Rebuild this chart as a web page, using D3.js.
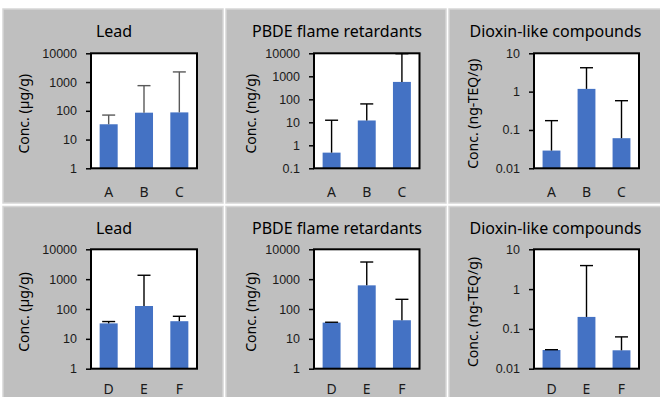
<!DOCTYPE html>
<meta charset="utf-8">
<style>
  body { margin: 0; background: #fff; }
  svg { display: block; font-family: "Noto Sans", sans-serif; }
  .tick text { font-size: 12.5px; fill: #1a1a1a; }
</style>
<body>
<script src="https://cdn.jsdelivr.net/npm/d3@7"></script>
<script>
// chart data
var titles   = ["Lead", "PBDE flame retardants", "Dioxin-like compounds"];
var yLabels  = ["Conc. (\u00b5g/g)", "Conc. (ng/g)", "Conc. (ng-TEQ/g)"];
var catsTop    = ["A", "B", "C"];
var catsBottom = ["D", "E", "F"];

var leadTop     = [34, 86, 88],      leadTopErr     = [71, 750, 2250];
var pbdeTop     = [0.48, 12, 570],   pbdeTopErr     = [12.3, 63, 9600];
var dioxinTop   = [0.029, 1.18, 0.061], dioxinTopErr = [0.175, 4.2, 0.58];
var leadBot     = [33, 126, 39],     leadBotErr     = [38, 1350, 57];
var pbdeBot     = [35, 620, 42],     pbdeBotErr     = [36, 3750, 211];
var dioxinBot   = [0.0295, 0.2, 0.029], dioxinBotErr = [0.03, 3.9, 0.063];

var domains = {
  lead: [1, 10000], pbdeTop: [0.1, 10000], pbdeBot: [1, 10000], dioxin: [0.01, 10]
};

// layout
var W = 660, H = 397;
var colX = [[91, 197], [314, 419.5], [534, 639]];
var yLabX = [23, 250, 472];
var rowY = [[53.3, 168.3], [249.3, 368.7]];
var rowTitleY = [36.5, 234];
var rowCatY = [196.5, 393.5];
var panelX = [[3, 223], [226, 446], [449, 662]];
var panelY = [[9, 203], [206.5, 400]];

var panels = [
  {row:0, col:0, cats:catsTop,    vals:leadTop,   errs:leadTopErr,   dom:domains.lead,    errColor:"#595959"},
  {row:0, col:1, cats:catsTop,    vals:pbdeTop,   errs:pbdeTopErr,   dom:domains.pbdeTop, errColor:"#000"},
  {row:0, col:2, cats:catsTop,    vals:dioxinTop, errs:dioxinTopErr, dom:domains.dioxin,  errColor:"#000"},
  {row:1, col:0, cats:catsBottom, vals:leadBot,   errs:leadBotErr,   dom:domains.lead,    errColor:"#000"},
  {row:1, col:1, cats:catsBottom, vals:pbdeBot,   errs:pbdeBotErr,   dom:domains.pbdeBot, errColor:"#000"},
  {row:1, col:2, cats:catsBottom, vals:dioxinBot, errs:dioxinBotErr, dom:domains.dioxin,  errColor:"#000"}
];

var svg = d3.select("body").append("svg")
  .attr("width", W).attr("height", H);

svg.append("rect").attr("width", W).attr("height", H).attr("fill", "#fff");

// grey panel backgrounds first so no panel paints over another one's text
svg.selectAll(".panel").data(panels).enter().append("rect")
  .attr("class", "panel")
  .attr("x", function(p){ return panelX[p.col][0]; })
  .attr("y", function(p){ return panelY[p.row][0]; })
  .attr("width", function(p){ return panelX[p.col][1] - panelX[p.col][0]; })
  .attr("height", function(p){ return panelY[p.row][1] - panelY[p.row][0]; })
  .attr("fill", "#bfbfbf")
  .attr("stroke", "#d6d6d6").attr("stroke-width", 1.5);

panels.forEach(function(p){
  var xr = colX[p.col], yr = rowY[p.row], px = panelX[p.col];

  var x = d3.scaleBand().domain(p.cats).range(xr).paddingInner(0.49).paddingOuter(0.245);
  var y = d3.scaleLog().domain(p.dom).range([yr[1], yr[0]]);

  var g = svg.append("g");

  // plot area
  g.append("rect")
    .attr("x", xr[0]).attr("y", yr[0])
    .attr("width", xr[1] - xr[0]).attr("height", yr[1] - yr[0])
    .attr("fill", "#fff");

  var data = p.cats.map(function(c, i){ return {cat: c, v: p.vals[i], e: p.errs[i]}; });

  // bars
  g.selectAll(".bar").data(data).enter().append("rect")
    .attr("class", "bar")
    .attr("x", function(d){ return x(d.cat); })
    .attr("width", x.bandwidth())
    .attr("y", function(d){ return y(d.v); })
    .attr("height", function(d){ return y(p.dom[0]) - y(d.v); })
    .attr("fill", "#4472c4");

  // error bars (plus side only)
  var cx = function(d){ return x(d.cat) + x.bandwidth() / 2; };
  g.selectAll(".err").data(data).enter().append("line")
    .attr("x1", cx).attr("x2", cx)
    .attr("y1", function(d){ return y(d.v); })
    .attr("y2", function(d){ return y(d.e); })
    .attr("stroke", p.errColor).attr("stroke-width", 1.4);
  g.selectAll(".cap").data(data).enter().append("line")
    .attr("x1", function(d){ return cx(d) - 6.5; })
    .attr("x2", function(d){ return cx(d) + 6.5; })
    .attr("y1", function(d){ return y(d.e); })
    .attr("y2", function(d){ return y(d.e); })
    .attr("stroke", p.errColor).attr("stroke-width", 1.4);

  // frame
  g.append("rect")
    .attr("x", xr[0]).attr("y", yr[0])
    .attr("width", xr[1] - xr[0]).attr("height", yr[1] - yr[0])
    .attr("fill", "none").attr("stroke", "#000").attr("stroke-width", 2);

  // y axis
  var ticks = [];
  for (var t = p.dom[0]; t <= p.dom[1] * 1.0001; t *= 10) ticks.push(+t.toPrecision(3));
  var ax = g.append("g")
    .attr("transform", "translate(" + xr[0] + ",0)")
    .call(d3.axisLeft(y).tickValues(ticks).tickSize(5).tickPadding(9).tickFormat(d3.format("~g")));
  ax.select(".domain").remove();
  ax.selectAll(".tick line").attr("stroke", "#000").attr("stroke-width", 1.5);
  ax.selectAll(".tick text").attr("font-family", null).attr("font-size", null);

  // category labels
  g.selectAll(".cat").data(p.cats).enter().append("text")
    .attr("x", function(d){ return x(d) + x.bandwidth() / 2; })
    .attr("y", rowCatY[p.row])
    .attr("text-anchor", "middle")
    .style("font-size", "14px").attr("fill", "#1a1a1a")
    .text(function(d){ return d; });

  // title, centred on the grey panel
  g.append("text")
    .attr("x", (px[0] + Math.min(px[1], W)) / 2 + 1)
    .attr("y", rowTitleY[p.row])
    .attr("text-anchor", "middle")
    .style("font-size", "16px").attr("fill", "#000")
    .text(titles[p.col]);

  // y label
  g.append("text")
    .attr("transform", "translate(" + yLabX[p.col] + "," + ((yr[0] + yr[1]) / 2 + 3) + ") rotate(-90)")
    .attr("text-anchor", "middle")
    .attr("dominant-baseline", "central")
    .style("font-size", "14px").attr("fill", "#000")
    .text(yLabels[p.col]);
});
</script>
</body>
